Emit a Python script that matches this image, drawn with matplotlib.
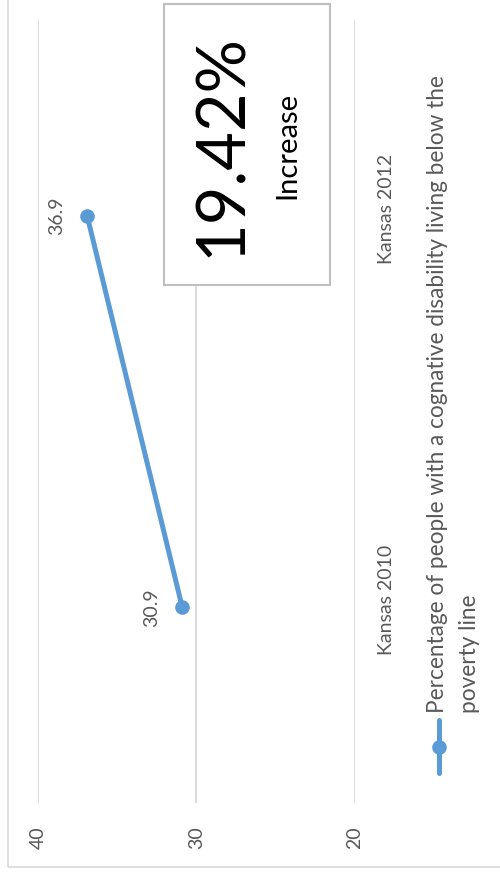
import matplotlib
matplotlib.use("Agg")
import matplotlib.pyplot as plt
from matplotlib.patches import Rectangle
from matplotlib.lines import Line2D
from matplotlib.transforms import blended_transform_factory

plt.rcParams['font.family'] = ['Lato', 'DejaVu Sans']

# data
categories = ['Kansas 2010', 'Kansas 2012']
values = [30.9, 36.9]
value_ticks = [40, 30, 20]
series_name = 'Percentage of people with a cognative disability living below the'
series_name2 = 'poverty line'
change_text = '19.42%'
change_word = 'Increase'

W, H = 500, 881
fig = plt.figure(figsize=(W / 100, H / 100), dpi=100)

def fx(px):
    return px / W

def fy(py):
    return (H - py) / H

gray = '#595959'
blue = '#5B9BD5'

# outer chart border
fig.add_artist(Rectangle((fx(8), fy(867)), 1.2, 1.2, transform=fig.transFigure,
                         fill=False, edgecolor='#D9D9D9', lw=1.2))

# plot area (rotated chart: values run along x, categories along y)
ax = fig.add_axes([fx(38), fy(803), fx(355) - fx(38), fy(20) - fy(803)])
ax.set_xlim(40, 20)
ax.set_ylim(-0.5, 1.5)
for s in ax.spines.values():
    s.set_visible(False)
for v in value_ticks:
    ax.axvline(v, color='#D9D9D9', lw=1.3, zorder=1)

pos = list(range(len(categories)))
ax.plot(values, pos, color=blue, lw=3.6, marker='o', markersize=9.5,
        solid_capstyle='round', zorder=3)

for v, p in zip(values, pos):
    ax.annotate(f'{v}', (v, p), xytext=(-22, 0), textcoords='offset points',
                rotation=90, ha='center', va='center', fontsize=14, color=gray)

ax.set_yticks([])
ax.set_xticks(value_ticks)
ax.set_xticklabels([str(t) for t in value_ticks], rotation=90, fontsize=14,
                   color=gray, va='top')
ax.tick_params(axis='x', length=0, pad=17)

# category labels sit beyond the value-20 edge
trans = blended_transform_factory(ax.transAxes, ax.transData)
for c, p in zip(categories, pos):
    ax.annotate(c, ((386 - 38) / (355 - 38), p), xycoords=trans,
                xytext=(0, 5), textcoords='offset points', rotation=90,
                ha='center', va='center', fontsize=14, color=gray,
                annotation_clip=False)

# text box
fig.add_artist(Rectangle((fx(164), fy(285)), fx(330) - fx(164), fy(4) - fy(285),
                         transform=fig.transFigure, facecolor='white',
                         edgecolor='#BFBFBF', lw=1.5, zorder=5))
fig.text(fx(222), fy(145), change_text, rotation=90, ha='center', va='center',
         fontsize=48, color='black', zorder=6)
fig.text(fx(287), fy(145), change_word, rotation=90, ha='center', va='center',
         fontsize=21, color='black', zorder=6)

# legend
fig.add_artist(Line2D([fx(439), fx(439)], [fy(773), fy(720)], transform=fig.transFigure,
                      color=blue, lw=3.6, solid_capstyle='round'))
fig.add_artist(Line2D([fx(439)], [fy(747)], transform=fig.transFigure,
                      color=blue, marker='o', markersize=9.5))
fig.text(fx(438), fy(713), series_name, rotation=90, ha='center', va='bottom',
         fontsize=16.3, color=gray)
fig.text(fx(470), fy(713), series_name2, rotation=90, ha='center', va='bottom',
         fontsize=16.3, color=gray)

fig.savefig('out.png', dpi=100)
